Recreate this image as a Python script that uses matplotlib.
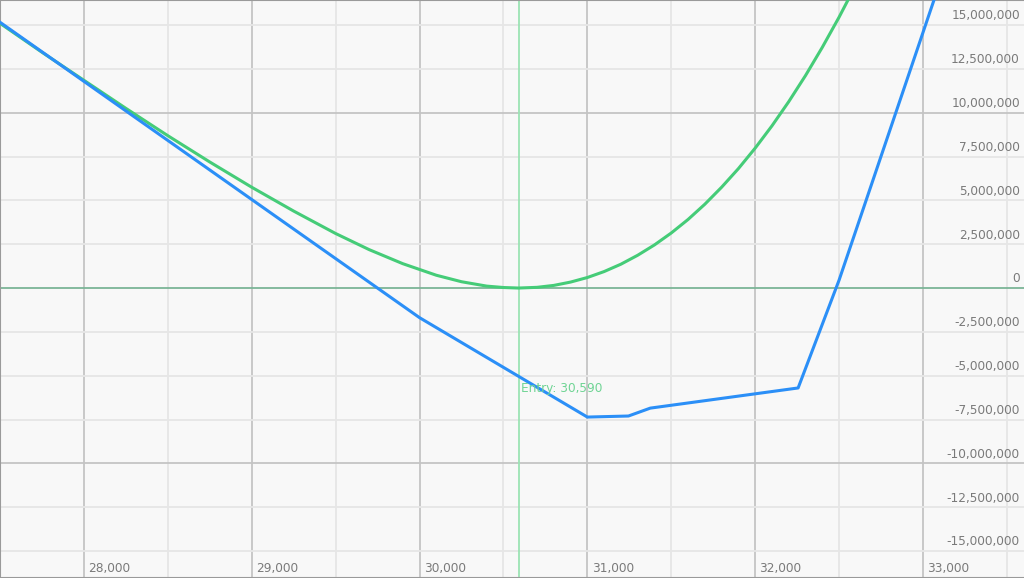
import matplotlib
matplotlib.use("Agg")
from matplotlib import pyplot as plt
from matplotlib.transforms import blended_transform_factory

# price grid and P&L values
entry_price = 30590

expiry_x = [27500, 30000, 31000, 31245, 31375, 32256, 32500, 33100]
expiry_y = [15.16e6, -1.69e6, -7.36e6, -7.30e6, -6.85e6, -5.70e6, 0.45e6, 17.4e6]

now_x = [27500, 27750, 28000, 28250, 28500, 28750, 29000, 29250, 29500, 29700,
         29900, 30100, 30250, 30400, 30500, 30590, 30700, 30800, 30900, 31000,
         31100, 31200, 31300, 31400, 31500, 31600, 31700, 31800, 31900, 32000,
         32100, 32200, 32300, 32400, 32500, 32600]
now_y = [15.10e6, 13.45e6, 11.85e6, 10.25e6, 8.69e6, 7.19e6, 5.75e6, 4.39e6, 3.11e6, 2.19e6,
         1.39e6, 0.73e6, 0.36e6, 0.11e6, 0.03e6, 0.0, 0.04e6, 0.15e6, 0.34e6, 0.60e6,
         0.94e6, 1.36e6, 1.87e6, 2.46e6, 3.14e6, 3.91e6, 4.78e6, 5.75e6, 6.81e6, 7.98e6,
         9.25e6, 10.63e6, 12.12e6, 13.73e6, 15.45e6, 17.29e6]

x_ticks = [28000, 29000, 30000, 31000, 32000, 33000]
y_ticks = [15e6, 12.5e6, 10e6, 7.5e6, 5e6, 2.5e6, 0, -2.5e6, -5e6, -7.5e6,
           -10e6, -12.5e6, -15e6]

fig = plt.figure(figsize=(10.24, 5.78), dpi=100)
ax = fig.add_axes([0, 0, 1, 1])
ax.set_facecolor("#f8f8f8")
ax.set_xlim(27500, 33602)
ax.set_ylim(-16.54e6, 16.43e6)

# grid: light minor lines, darker major lines
for x in range(27500, 33601, 500):
    major = x % 1000 == 0
    ax.axvline(x, color="#c4c4c4" if major else "#e6e6e6", lw=1.3, zorder=1)
for y in y_ticks:
    if y == 0:
        continue
    major = y % 10e6 == 0
    ax.axhline(y, color="#c4c4c4" if major else "#e6e6e6", lw=1.3, zorder=1)
ax.axhline(0, color="#7bb597", lw=1.3, zorder=2)
ax.axvline(entry_price, color="#9be3b4", lw=1.3, zorder=2)

ax.plot(now_x, now_y, color="#45cc78", lw=2.2, zorder=3)
ax.plot(expiry_x, expiry_y, color="#2b8ff7", lw=2.2, zorder=4)

ax.text(entry_price + 16, -5.75e6, f"Entry: {entry_price:,}", color="#6fd494",
        fontsize=8.7, va="center", ha="left", zorder=5)

ytrans = blended_transform_factory(ax.transAxes, ax.transData)
for y in y_ticks:
    ax.text(0.996, y + 0.15e6, f"{y:,.0f}", transform=ytrans, ha="right",
            va="bottom", fontsize=8.7, color="#7a7a7a", zorder=5)
xtrans = blended_transform_factory(ax.transData, ax.transAxes)
for x in x_ticks:
    ax.text(x + 25, 0.006, f"{x:,}", transform=xtrans, ha="left",
            va="bottom", fontsize=8.7, color="#7a7a7a", zorder=5)

ax.set_xticks([])
ax.set_yticks([])
for side in ["left", "bottom", "top"]:
    ax.spines[side].set_color("#9a9a9a")
    ax.spines[side].set_linewidth(1.5)
ax.spines["right"].set_visible(False)

fig.savefig("out.png", dpi=100)
